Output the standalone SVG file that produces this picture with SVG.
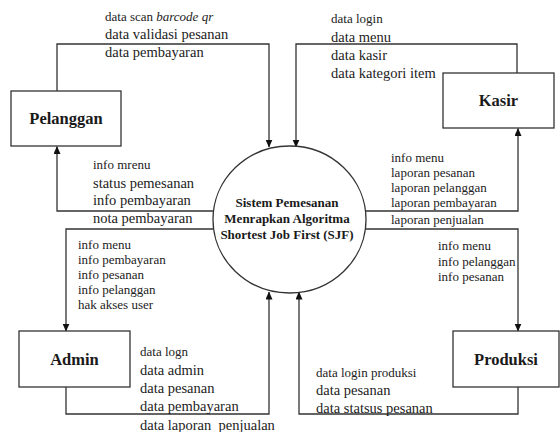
<svg xmlns="http://www.w3.org/2000/svg" width="560" height="432" viewBox="0 0 560 432">
<defs>
<style>
.box{fill:#fff;stroke:#333;stroke-width:1.3}
.ttl{font-family:"Liberation Serif","Times New Roman",serif;font-weight:bold;font-size:16.5px;fill:#1a1a1a;text-anchor:middle}
.ctr{font-family:"Liberation Serif","Times New Roman",serif;font-weight:bold;font-size:13px;fill:#1a1a1a;text-anchor:middle}
.lb{font-family:"Liberation Serif","Times New Roman",serif;font-size:14.5px;fill:#222}
.sm{font-size:13px}
.cn{fill:none;stroke:#333;stroke-width:1.3;marker-end:url(#ah)}
</style>
<marker id="ah" markerUnits="userSpaceOnUse" markerWidth="8" markerHeight="8" refX="7.5" refY="3.5" orient="auto">
<path d="M0,0 L8,3.5 L0,7 z" fill="#111"/>
</marker>
</defs>
<rect width="560" height="432" fill="#fff"/>

<g id="connectors">
<path class="cn" d="M57,91 V44 H269 V147"/>
<path class="cn" d="M517,73 V44 H296 V147"/>
<path class="cn" d="M213.5,211 H57 V146.5"/>
<path class="cn" d="M213.3,229 H66 V331"/>
<path class="cn" d="M66,387 V414 H269 V292"/>
<path class="cn" d="M518,387 V414 H299 V292"/>
<path class="cn" d="M365.5,211 H518 V128.5"/>
<path class="cn" d="M365.7,229 H518 V331"/>
</g>

<g id="labels">
<text class="lb"><tspan x="105" y="21" class="sm">data scan <tspan font-style="italic">barcode qr</tspan></tspan><tspan x="105" y="39">data validasi pesanan</tspan><tspan x="105" y="57">data pembayaran</tspan></text>
<text class="lb"><tspan x="331" y="23" class="sm">data login</tspan><tspan x="331" y="42">data menu</tspan><tspan x="331" y="60">data kasir</tspan><tspan x="331" y="78">data kategori item</tspan></text>
<text class="lb"><tspan x="93" y="169" class="sm">info mrenu</tspan><tspan x="93" y="188">status pemesanan</tspan><tspan x="93" y="205">info pembayaran</tspan><tspan x="93" y="223">nota pembayaran</tspan></text>
<text class="lb sm"><tspan x="78" y="249">info menu</tspan><tspan x="78" y="264">info pembayaran</tspan><tspan x="78" y="279">info pesanan</tspan><tspan x="78" y="294">info pelanggan</tspan><tspan x="78" y="309">hak akses user</tspan></text>
<text class="lb"><tspan x="140" y="356" class="sm">data logn</tspan><tspan x="140" y="375">data admin</tspan><tspan x="140" y="393">data pesanan</tspan><tspan x="140" y="411">data pembayaran</tspan><tspan x="140" y="430">data laporan&#160; penjualan</tspan></text>
<text class="lb sm"><tspan x="391" y="162">info menu</tspan><tspan x="391" y="177">laporan pesanan</tspan><tspan x="391" y="192">laporan pelanggan</tspan><tspan x="391" y="207">laporan pembayaran</tspan><tspan x="391" y="224">laporan penjualan</tspan></text>
<text class="lb sm"><tspan x="438" y="250">info menu</tspan><tspan x="438" y="266">info pelanggan</tspan><tspan x="438" y="281">info pesanan</tspan></text>
<text class="lb"><tspan x="316" y="377" class="sm">data login produksi</tspan><tspan x="316" y="395">data pesanan</tspan><tspan x="316" y="413">data statsus pesanan</tspan></text>
</g>

<g id="pelanggan"><rect class="box" x="11" y="91" width="110" height="55"/><text class="ttl" x="66" y="124">Pelanggan</text></g>
<g id="kasir"><rect class="box" x="443" y="73" width="111" height="55"/><text class="ttl" x="498.5" y="106">Kasir</text></g>
<g id="admin"><rect class="box" x="19" y="331" width="111" height="56"/><text class="ttl" x="74.5" y="365">Admin</text></g>
<g id="produksi"><rect class="box" x="453" y="331" width="106" height="56"/><text class="ttl" x="506" y="365">Produksi</text></g>
<g id="sistem"><ellipse class="box" cx="289.5" cy="219.5" rx="76.5" ry="73.5"/><text class="ctr"><tspan x="287" y="207">Sistem Pemesanan</tspan><tspan x="287" y="223">Menrapkan Algoritma</tspan><tspan x="287" y="239">Shortest Job First (SJF)</tspan></text></g>
</svg>
